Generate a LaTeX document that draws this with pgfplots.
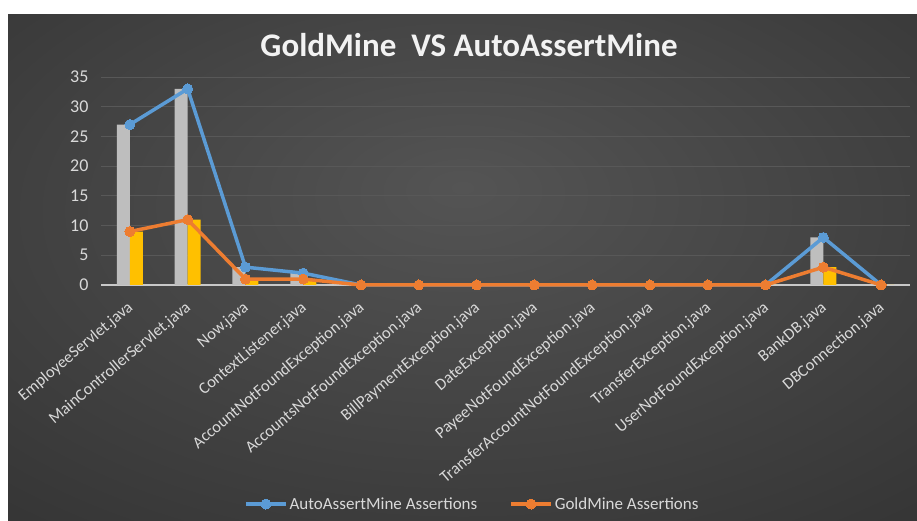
\documentclass[border=0pt]{standalone}
\usepackage{pgfplots}
\pgfplotsset{compat=1.18}
\usepackage{fontspec}
\setmainfont{Carlito}
\definecolor{bgA}{RGB}{84,84,84}
\definecolor{bgB}{RGB}{52,52,52}
\definecolor{bgC}{RGB}{30,30,30}
\definecolor{txt}{RGB}{217,217,217}
\definecolor{gridc}{RGB}{88,88,88}
\definecolor{zeroc}{RGB}{200,200,200}
\definecolor{blueL}{RGB}{91,155,213}
\definecolor{orangeL}{RGB}{237,125,49}
\definecolor{barGray}{RGB}{190,190,190}
\definecolor{barYellow}{RGB}{255,192,0}
\pgfdeclareradialshading{bgshade}{\pgfpoint{0bp}{8bp}}{color(0bp)=(bgA); color(40bp)=(bgB); color(75bp)=(bgC)}
\begin{document}
\begin{tikzpicture}[x=1pt,y=1pt]
\useasboundingbox (0,0) rectangle (917,521);
\fill[white] (0,0) rectangle (917,521);
\shade[shading=bgshade] (8,0) rectangle (917,506);
\node[text={rgb,255:red,242;green,242;blue,242}, font=\bfseries\fontsize{33}{38}\selectfont] at (469,476) {GoldMine\ \ VS AutoAssertMine};
\begin{axis}[
  at={(101pt,236pt)}, anchor=south west,
  scale only axis, width=809pt, height=208pt,
  xmin=-0.5, xmax=13.5, ymin=0, ymax=35,
  ytick={5,10,...,35},
  extra y ticks={0},
  extra y tick style={grid style={draw=zeroc, line width=1.2pt}},
  xtick={0,...,13},
  xticklabels={EmployeeServlet.java,MainControllerServlet.java,Now.java,ContextListener.java,AccountNotFoundException.java,AccountsNotFoundException.java,BillPaymentException.java,DateException.java,PayeeNotFoundException.java,TransferAccountNotFoundException.java,TransferException.java,UserNotFoundException.java,BankDB.java,DBConnection.java},
  xticklabel style={anchor=east, xshift=2pt, yshift=-20pt, rotate=40, font=\fontsize{16.5}{19}\selectfont, text=txt, inner sep=1pt},
  yticklabel style={xshift=-9pt, font=\fontsize{18}{21}\selectfont, text=txt},
  /pgf/number format/assume math mode=true,
  axis line style={draw=none},
  major tick length=0pt,
  ymajorgrids, grid style={draw=gridc, line width=0.8pt},
  clip=false,
  legend style={at={(0.459,-1.053)}, anchor=center, legend columns=2, draw=none, fill=none, text=txt, font=\fontsize{17}{20}\selectfont, /tikz/every even column/.append style={column sep=30pt}},
  legend image code/.code={\draw[mark repeat=2,mark phase=2,#1] plot coordinates {(0pt,0pt) (20pt,0pt) (40pt,0pt)};},
]
\addplot[ybar, bar width=13pt, bar shift=-6.5pt, fill=barGray, draw=none, forget plot] coordinates {(0,27) (1,33) (2,3) (3,2) (4,0) (5,0) (6,0) (7,0) (8,0) (9,0) (10,0) (11,0) (12,8) (13,0)};
\addplot[ybar, bar width=13pt, bar shift=6.5pt, fill=barYellow, draw=none, forget plot] coordinates {(0,9) (1,11) (2,1) (3,1) (4,0) (5,0) (6,0) (7,0) (8,0) (9,0) (10,0) (11,0) (12,3) (13,0)};
\addplot[blueL, line width=3.5pt, mark=*, mark size=5pt, mark options={fill=blueL, draw=blueL, line width=0pt}] coordinates {(0,27) (1,33) (2,3) (3,2) (4,0) (5,0) (6,0) (7,0) (8,0) (9,0) (10,0) (11,0) (12,8) (13,0)};
\addlegendentry{AutoAssertMine Assertions}
\addplot[orangeL, line width=3.5pt, mark=*, mark size=5pt, mark options={fill=orangeL, draw=orangeL, line width=0pt}] coordinates {(0,9) (1,11) (2,1) (3,1) (4,0) (5,0) (6,0) (7,0) (8,0) (9,0) (10,0) (11,0) (12,3) (13,0)};
\addlegendentry{GoldMine Assertions}
\end{axis}
\end{tikzpicture}
\end{document}
